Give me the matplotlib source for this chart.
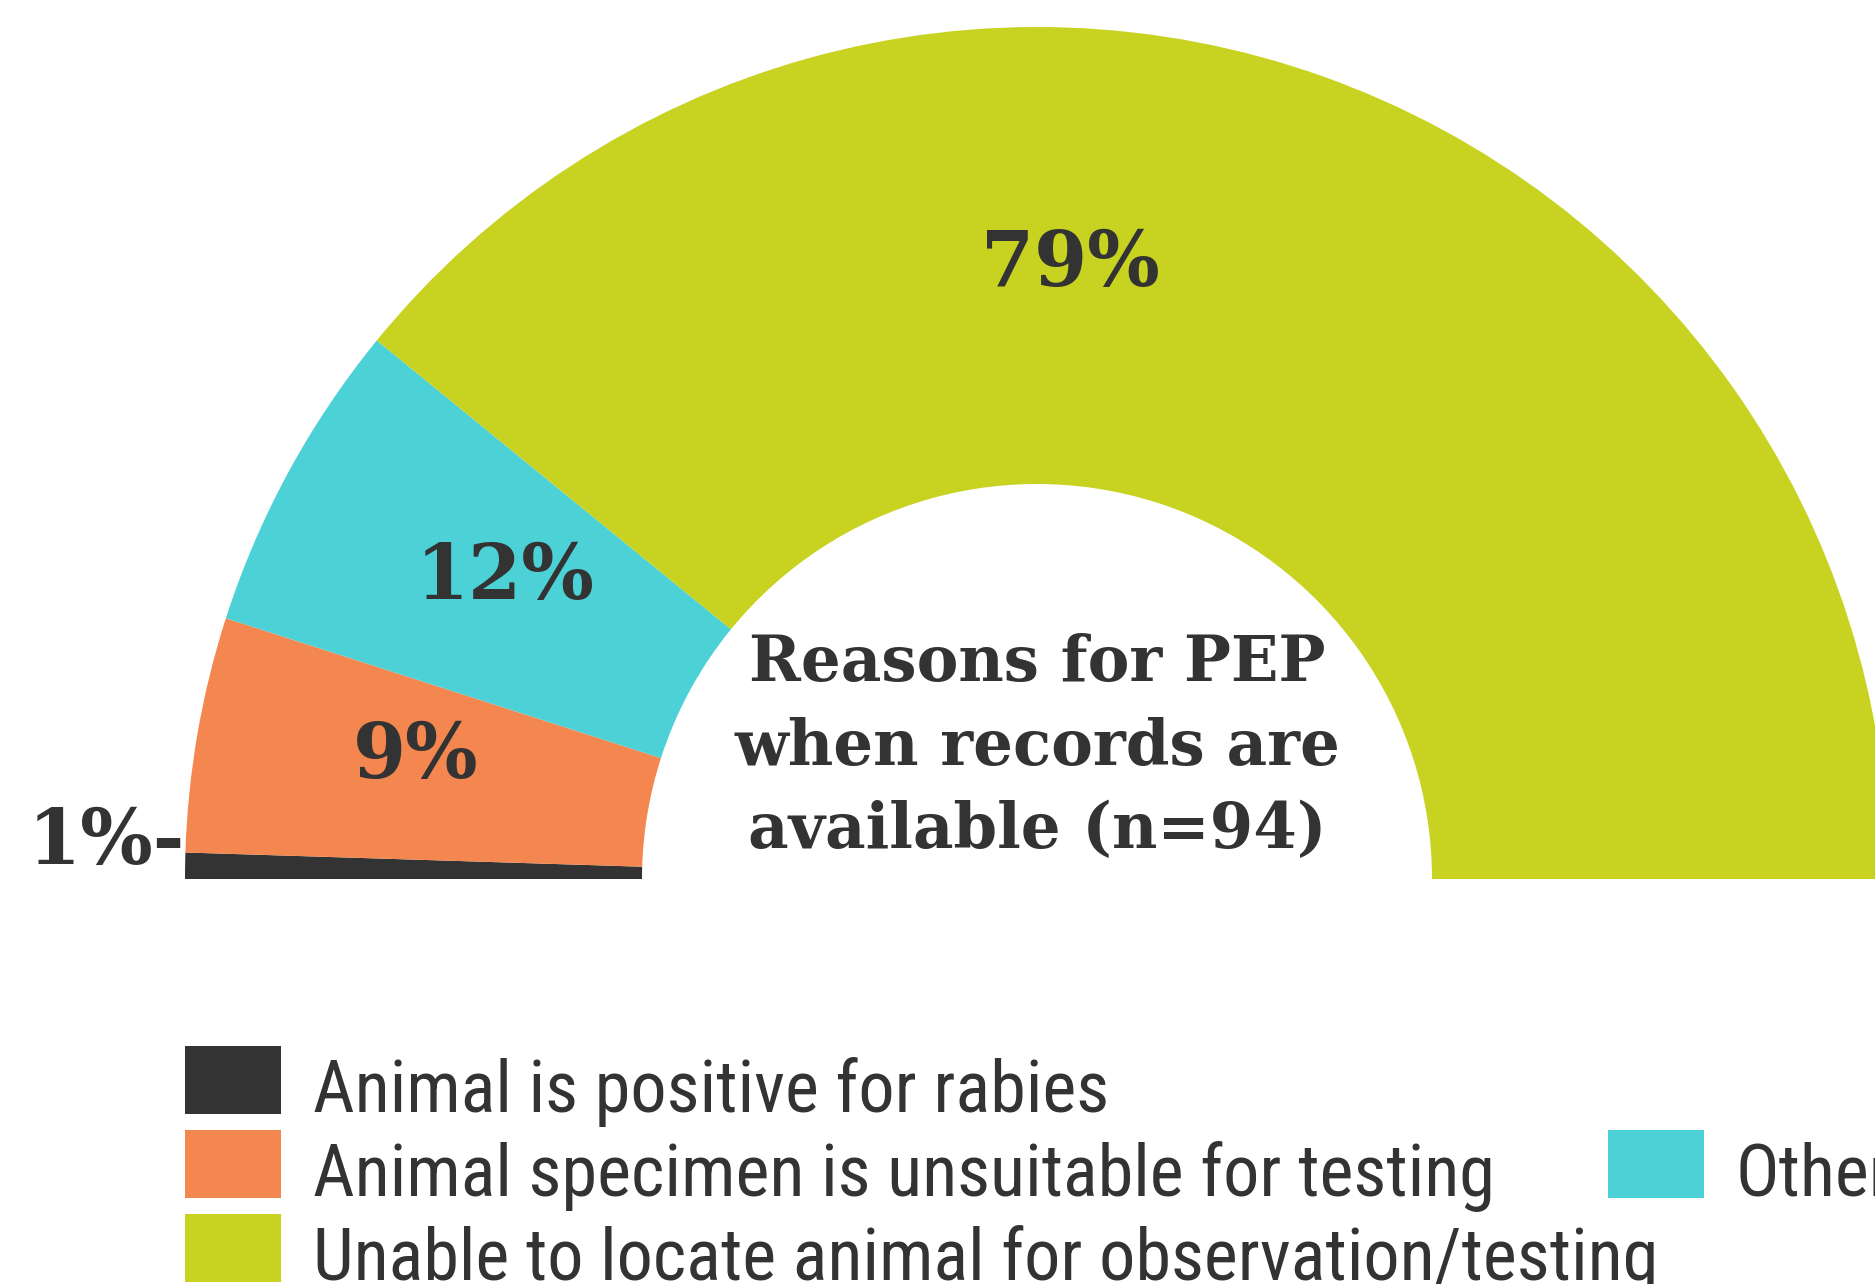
import matplotlib
matplotlib.use("Agg")
import matplotlib.pyplot as plt
from matplotlib import font_manager
from matplotlib.patches import Rectangle

# Pie slices, left to right (clockwise from the left horizontal)
categories = ["Animal is positive for rabies",
              "Animal specimen is unsuitable for testing",
              "Other",
              "Unable to locate animal for observation/testing"]
shares = [1, 9, 12, 79]
pct_labels = ["1%-", "9%", "12%", "79%"]
colors = ["#333333", "#F4874F", "#4CD1D6", "#C8D221"]
title_lines = ["Reasons for PEP", "when records are", "available (n=94)"]

text_col = "#333333"

# Pick fonts that exist here
names = {f.name for f in font_manager.fontManager.ttflist}

def pick(*cands):
    for c in cands:
        if c in names:
            return c
    return "DejaVu Sans"

serif = pick("DejaVu Serif Condensed", "DejaVu Serif", "Liberation Serif")
narrow = pick("Liberation Sans Narrow", "Roboto Condensed", "Liberation Sans")

fig = plt.figure(figsize=(18.75, 12.84), dpi=100)
ax = fig.add_axes([0, 0, 1, 1])

# Half donut: add an invisible slice equal to the total for the bottom half
cx, cy = 1037, 405
r_out, r_in = 852, 395
wedges, _ = ax.pie(shares + [sum(shares)], colors=colors + ["none"],
                   startangle=180, counterclock=False,
                   radius=r_out, center=(cx, cy),
                   wedgeprops=dict(width=r_out - r_in, linewidth=0))
wedges[-1].set_visible(False)

ax.set_xlim(0, 1875)
ax.set_ylim(0, 1284)
ax.set_aspect("equal")
ax.axis("off")

# Percent labels
label_pos = [(185, 441), (416, 527), (505, 706), (1070, 1019)]
for lab, (x, y) in zip(pct_labels, label_pos):
    ha = "right" if lab.endswith("-") else "center"
    ax.text(x, y, lab, ha=ha, va="center", fontsize=55, fontweight="bold",
            family=serif, color=text_col)

# Center title
for i, line in enumerate(title_lines):
    ax.text(cx, 621 - i * 84, line, ha="center", va="center", fontsize=45,
            fontweight="bold", family=serif, color=text_col)

# Legend (left column: black, orange, green; right column: teal)
leg_rows = {0: (185, 1046), 1: (185, 1130), 3: (185, 1214), 2: (1608, 1130)}
for idx, (x, ytop) in leg_rows.items():
    ax.add_patch(Rectangle((x, 1284 - ytop - 68), 96, 68,
                           facecolor=colors[idx], edgecolor="none"))
    ax.text(x + 128, 1284 - ytop - 66, categories[idx], ha="left",
            va="baseline", fontsize=52, family=narrow, color=text_col)

fig.savefig("out.png", dpi=100, facecolor="white")
